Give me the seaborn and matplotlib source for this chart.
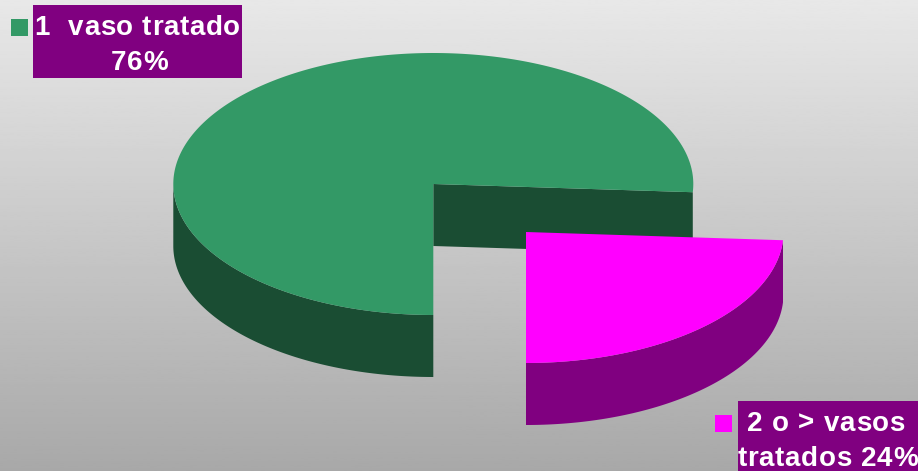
import numpy as np
import matplotlib
matplotlib.use("Agg")
import matplotlib.pyplot as plt
from matplotlib.font_manager import FontProperties
from matplotlib.patches import Rectangle
import seaborn as sns

# Share of patients by number of vessels treated
label_lines = [["1  vaso tratado", "76%"], ["2 o > vasos", "tratados 24%"]]
shares = [76, 24]

GREEN, GREEN_DARK = "#339966", "#1a4d33"
MAGENTA, PURPLE = "#ff00ff", "#800080"

sns.set_theme(style="white")
plt.rcParams["font.family"] = ["Liberation Sans", "DejaVu Sans"]

W, H = 918, 471
fig = plt.figure(figsize=(W / 100, H / 100), dpi=100)
ax = fig.add_axes([0, 0, 1, 1])
ax.set_xlim(0, W)
ax.set_ylim(H, 0)
ax.axis("off")

# Vertical grey backdrop
ramp = np.linspace(0.91, 0.66, 256).reshape(-1, 1)
ax.imshow(ramp, cmap="gray", vmin=0, vmax=1, extent=(0, W, H, 0), aspect="auto", zorder=0)

RX, RY, DEPTH = 260, 131, 62
RX_OUT = 257.5
CENTER_MAIN = (433.3, 184)
CENTER_OUT = (526, 232)


def arc(center, a0, a1, rx=RX, n=240):
    t = np.radians(np.linspace(a0, a1, n))
    return center[0] + rx * np.cos(t), center[1] - RY * np.sin(t)


# Slice angles follow from the shares; the small slice ends at the bottom of the ellipse
small_sweep = 360 * shares[1] / sum(shares)
end_small = -90 + small_sweep
end_main = end_small + 360 * shares[0] / sum(shares)

# Main slice: inner wall, outer wall, then top face
mx, my = arc(CENTER_MAIN, end_small, end_main)
ex, ey = mx[0], my[0]
ax.fill([CENTER_MAIN[0], ex, ex, CENTER_MAIN[0]],
        [CENTER_MAIN[1], ey, ey + DEPTH, CENTER_MAIN[1] + DEPTH],
        color=GREEN_DARK, lw=0, zorder=2)
wx, wy = arc(CENTER_MAIN, 180, end_main)
ax.fill(np.r_[wx, wx[::-1]], np.r_[wy, wy[::-1] + DEPTH], color=GREEN_DARK, lw=0, zorder=2)
ax.fill(np.r_[CENTER_MAIN[0], mx], np.r_[CENTER_MAIN[1], my], color=GREEN, lw=0, zorder=3)

# Pulled-out slice: outer wall, then top face
sx, sy = arc(CENTER_OUT, -90, end_small, rx=RX_OUT)
ax.fill(np.r_[sx, sx[::-1]], np.r_[sy, sy[::-1] + DEPTH], color=PURPLE, lw=0, zorder=4)
ax.fill(np.r_[CENTER_OUT[0], sx], np.r_[CENTER_OUT[1], sy], color=MAGENTA, lw=0, zorder=5)

# Bold labels with a little extra letter spacing
font = FontProperties(family="Liberation Sans", weight="bold", size=20)
renderer = fig.canvas.get_renderer()
TRACKING = 0.7


def advance(s):
    # The trailing bar keeps trailing spaces in the measured width
    w_full = renderer.get_text_width_height_descent(s + "|", font, False)[0]
    w_bar = renderer.get_text_width_height_descent("|", font, False)[0]
    return w_full - w_bar


def spaced_text(cx, cy, s):
    total = advance(s) + TRACKING * (len(s) - 1)
    x0 = cx - total / 2
    for i, ch in enumerate(s):
        if ch.strip():
            ax.text(x0 + advance(s[:i]) + TRACKING * i, cy, ch, color="white",
                    fontproperties=font, ha="left", va="center_baseline", zorder=7)


boxes = [(33, 5, 209, 73), (738, 401, 180, 70)]
keys = [(11, 19), (715, 415)]
swatches = [GREEN, MAGENTA]
line_centers = [[(137.5, 25), (139.5, 60)], [(826, 421), (827.5, 456)]]
for lines, (bx, by, bw, bh), (kx, ky), col, centers in zip(label_lines, boxes, keys, swatches, line_centers):
    ax.add_patch(Rectangle((bx, by), bw, bh, color=PURPLE, lw=0, zorder=6))
    ax.add_patch(Rectangle((kx, ky), 17, 17, color=col, lw=0, zorder=6))
    for line, (cx, cy) in zip(lines, centers):
        spaced_text(cx, cy, line)

fig.savefig("out.png", dpi=100)
